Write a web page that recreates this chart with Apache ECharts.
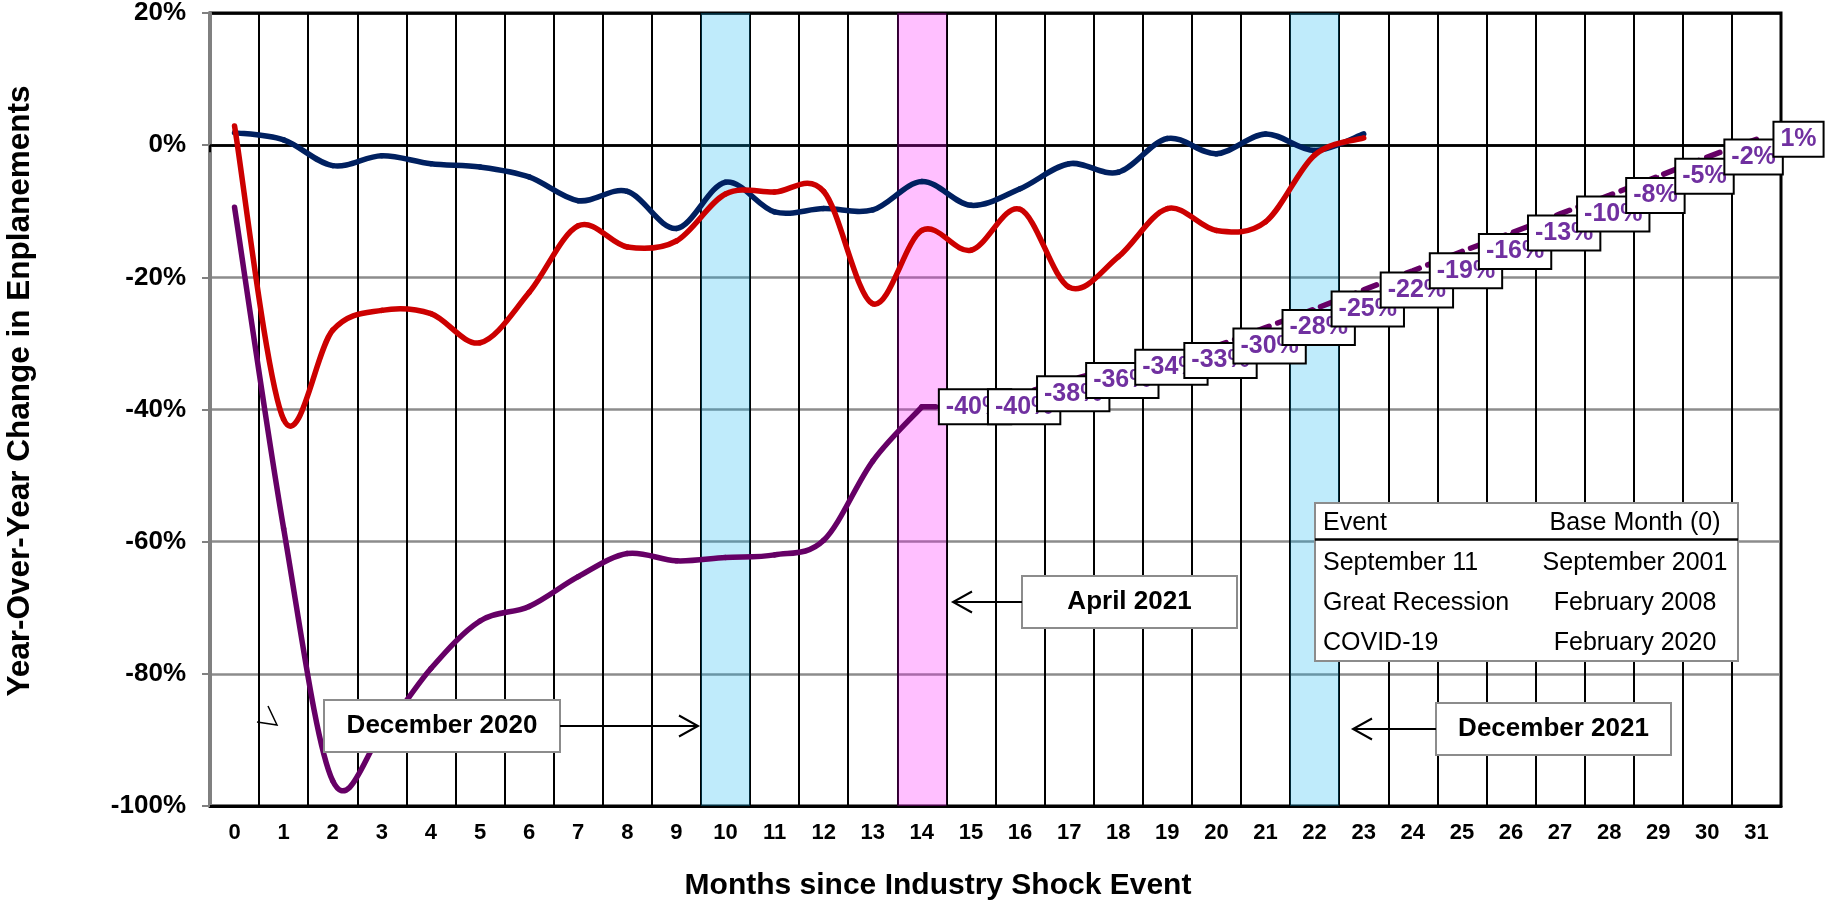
<!DOCTYPE html>
<html><head><meta charset="utf-8">
<script src="https://cdn.jsdelivr.net/npm/echarts@6/dist/echarts.min.js"></script>
<style>html,body{margin:0;padding:0;background:#fff}#c{width:1826px;height:901px}</style>
</head><body><div id="c"></div>
<script>
// ---------- data ----------
const months = ['0','1','2','3','4','5','6','7','8','9','10','11','12','13','14','15',
  '16','17','18','19','20','21','22','23','24','25','26','27','28','29','30','31'];

// September 11 (base month Sept 2001), months 0..23
const sept11 = [1.9, 0.8, -3.1, -1.6, -2.8, -3.3, -4.8, -8.4, -7.0, -12.6, -5.6, -10.1,
  -9.6, -9.8, -5.5, -9.1, -6.6, -2.8, -4.1, 1.0, -1.3, 1.7, -0.8, 1.7];

// Great Recession (base month Feb 2008), months 0..23
const greatRecession = [2.9, -41.5, -28.0, -25.0, -25.5, -29.9, -22.3, -12.2, -15.4, -14.5,
  -7.4, -7.1, -7.0, -24.0, -12.9, -15.9, -9.7, -21.5, -16.9, -9.6, -12.9, -11.6, -1.5, 1.1];

// COVID-19 actual (base month Feb 2020), months 0..14
const covidActual = [-9.4, -58.0, -96.2, -89.0, -79.2, -72.0, -69.8, -65.3, -61.8, -62.9,
  -62.4, -62.0, -59.8, -47.8, -39.6];

// COVID-19 forecast, months 14..31
const forecastStart = 14;
const covidForecast = [-39.6, -39.6, -37.6, -35.6, -33.6, -32.6, -30.4, -27.6, -24.8, -21.9,
  -19.0, -16.1, -13.3, -10.4, -7.6, -4.7, -1.8, 0.9];

// y-axis ticks
const yMin = -100, yMax = 20, yStep = 20;

// highlighted months
const blueMonths = [10, 22];
const pinkMonths = [14];

// legend-table text
const tableHeader = ['Event', 'Base Month (0)'];
const tableRows = [
  ['September 11', 'September 2001'],
  ['Great Recession', 'February 2008'],
  ['COVID-19', 'February 2020']
];

// ---------- chart ----------
const FF = '"Liberation Sans", Arial, Helvetica, sans-serif';
const forecastFull = new Array(forecastStart).fill(null).concat(covidForecast);
const pairs = arr => arr.map((v, i) => [i, v]);

// Excel-like (Catmull-Rom) smoothing, drawn through the axes' coordinate system
function smoothRender(color, width) {
  return function (params, api) {
    const i = params.dataIndexInside;
    const n = params.dataInsideLength;
    if (i >= n - 1) return null;
    const P = k => api.coord([api.value(0, k), api.value(1, k)]);
    const p1 = P(i), p2 = P(i + 1);
    const p0 = i > 0 ? P(i - 1) : p1;
    const p3 = i + 2 < n ? P(i + 2) : p2;
    const t = 1 / 6;
    return {
      type: 'bezierCurve',
      shape: {
        x1: p1[0], y1: p1[1], x2: p2[0], y2: p2[1],
        cpx1: p1[0] + (p2[0] - p0[0]) * t, cpy1: p1[1] + (p2[1] - p0[1]) * t,
        cpx2: p2[0] - (p3[0] - p1[0]) * t, cpy2: p2[1] - (p3[1] - p1[1]) * t
      },
      style: {stroke: color, lineWidth: width, fill: null, lineCap: 'round'}
    };
  };
}

const chart = echarts.init(document.getElementById('c'), null, {renderer: 'canvas'});

const graphics = [];
function annot(x, y, w, h, text) {
  graphics.push({type: 'rect', z: 100, shape: {x: x, y: y, width: w, height: h},
    style: {fill: '#fff', stroke: '#8c8c8c', lineWidth: 2}});
  graphics.push({type: 'text', z: 101, x: x + w / 2, y: y + h / 2,
    style: {text: text, fill: '#000', font: 'bold 26px ' + FF, align: 'center', verticalAlign: 'middle'}});
}
function arrow(x1, y, x2) {
  const d = x2 > x1 ? -1 : 1;
  graphics.push({type: 'line', z: 100, shape: {x1: x1, y1: y, x2: x2, y2: y},
    style: {stroke: '#000', lineWidth: 2}});
  graphics.push({type: 'polyline', z: 100,
    shape: {points: [[x2 + d * 19, y - 10.5], [x2, y], [x2 + d * 19, y + 10.5]]},
    style: {stroke: '#000', lineWidth: 2, fill: null}});
}
annot(324, 700, 236, 52, 'December 2020');
arrow(560, 726, 698);
annot(1022, 576, 215, 52, 'April 2021');
arrow(1022, 602, 953);
annot(1436, 703, 235, 52, 'December 2021');
arrow(1436, 729, 1353);
// stray arrow fragment
graphics.push({type: 'polyline', z: 100, shape: {points: [[268, 706], [277, 725], [257, 722]]},
  style: {stroke: '#000', lineWidth: 1.5, fill: null}});

// legend table
graphics.push({type: 'rect', z: 100, shape: {x: 1315, y: 503, width: 423, height: 158},
  style: {fill: '#fff', stroke: '#8c8c8c', lineWidth: 2}});
graphics.push({type: 'line', z: 101, shape: {x1: 1315, y1: 539.5, x2: 1738, y2: 539.5},
  style: {stroke: '#000', lineWidth: 2.5}});
const rowsAll = [tableHeader].concat(tableRows);
const rowY = [523, 563, 603, 643];
rowsAll.forEach((r, i) => {
  graphics.push({type: 'text', z: 101, x: 1323, y: rowY[i],
    style: {text: r[0], fill: '#000', font: '25px ' + FF, align: 'left', verticalAlign: 'middle'}});
  graphics.push({type: 'text', z: 101, x: 1635, y: rowY[i],
    style: {text: r[1], fill: '#000', font: '25px ' + FF, align: 'center', verticalAlign: 'middle'}});
});

// axis titles
graphics.push({type: 'text', z: 101, x: 938, y: 886,
  style: {text: 'Months since Industry Shock Event', fill: '#000', font: 'bold 30px ' + FF,
    align: 'center', verticalAlign: 'middle'}});
graphics.push({type: 'text', z: 101, x: 20, y: 391, rotation: Math.PI / 2,
  style: {text: 'Year-Over-Year Change in Enplanements', fill: '#000', font: 'bold 31.5px ' + FF,
    align: 'center', verticalAlign: 'middle'}});

const option = {
  animation: false,
  backgroundColor: '#fff',
  grid: {left: 210, right: 45, top: 12, bottom: 95, show: true, borderColor: '#000', borderWidth: 3,
    backgroundColor: 'transparent'},
  xAxis: [
    {type: 'category', data: months, boundaryGap: true, position: 'bottom',
      axisLine: {onZero: false, lineStyle: {color: '#000', width: 3}},
      axisTick: {show: false},
      axisLabel: {interval: 0, fontSize: 22, fontWeight: 'bold', color: '#000', margin: 16, fontFamily: FF},
      splitLine: {show: true, interval: 0, lineStyle: {color: '#000', width: 2}}},
    {type: 'category', data: months, boundaryGap: true, position: 'bottom',
      axisLine: {show: true, onZero: true, onZeroAxisIndex: 0, lineStyle: {color: '#000', width: 2.5}},
      axisTick: {show: true, interval: 0, length: 7, lineStyle: {color: '#000', width: 2}},
      axisLabel: {show: false}, splitLine: {show: false}},
    {type: 'value', min: -0.5, max: 31.5, show: false, axisLine: {onZero: false}}
  ],
  yAxis: {
    type: 'value', min: yMin, max: yMax, interval: yStep,
    axisLine: {show: true, onZero: false, lineStyle: {color: '#808080', width: 3}},
    axisTick: {show: true, length: 8, lineStyle: {color: '#808080', width: 2}},
    axisLabel: {formatter: '{value}%', fontSize: 26, fontWeight: 'bold', color: '#000', margin: 24, fontFamily: FF},
    splitLine: {show: true, lineStyle: {color: ['#000', '#8c8c8c', '#8c8c8c', '#8c8c8c', '#8c8c8c', '#000', '#000'], width: 2.5}}
  },
  series: [
    {name: 'blueBands', type: 'line', xAxisIndex: 2, data: [], z: 1, silent: true,
      markArea: {silent: true, itemStyle: {color: 'rgba(0,176,240,0.25)'},
        data: blueMonths.map(m => [{xAxis: m - 0.5}, {xAxis: m + 0.5}])}},
    {name: 'September 11', type: 'custom', data: pairs(sept11), encode: {x: 0, y: 1}, z: 2,
      renderItem: smoothRender('#002060', 5.5)},
    {name: 'Great Recession', type: 'custom', data: pairs(greatRecession), encode: {x: 0, y: 1}, z: 2,
      renderItem: smoothRender('#CC0000', 5.5)},
    {name: 'COVID-19', type: 'custom', data: pairs(covidActual), encode: {x: 0, y: 1}, z: 2,
      renderItem: smoothRender('#660066', 5.5)},
    {name: 'COVID-19 forecast', type: 'line', data: forecastFull, smooth: 0.3, z: 3,
      showSymbol: true, showAllSymbol: true, symbol: 'circle', symbolSize: 2,
      itemStyle: {color: '#660066'},
      lineStyle: {color: '#660066', width: 5.5, type: [14, 9], cap: 'round'},
      label: {show: true, position: 'right', distance: 17,
        formatter: p => (p.value == null ? '' : Math.round(p.value) + '%'),
        color: '#7030A0', fontSize: 25, fontWeight: 'bold', fontFamily: FF,
        backgroundColor: '#fff', borderColor: '#000', borderWidth: 2, padding: [3, 6], lineHeight: 27}},
    {name: 'pinkBands', type: 'line', xAxisIndex: 2, data: [], z: 5, silent: true,
      markArea: {silent: true, itemStyle: {color: 'rgba(255,0,255,0.25)'},
        data: pinkMonths.map(m => [{xAxis: m - 0.5}, {xAxis: m + 0.5}])}}
  ],
  graphic: graphics
};
chart.setOption(option);
</script></body></html>
